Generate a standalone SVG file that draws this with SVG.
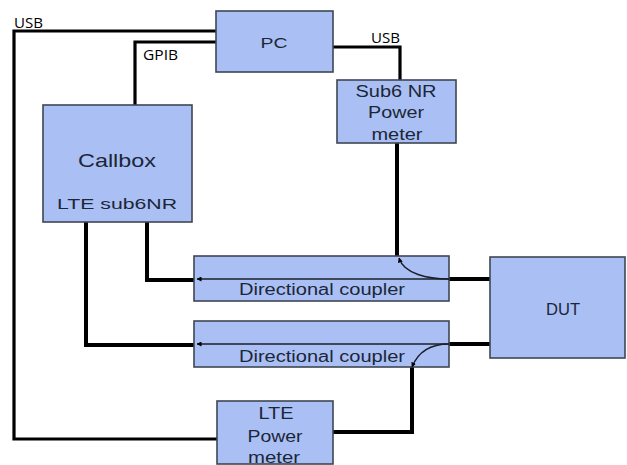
<svg xmlns="http://www.w3.org/2000/svg" width="627" height="465" viewBox="0 0 627 465">
<style>
.box{fill:#aac0f4;stroke:#3f4654;stroke-width:1.6}
.t{font-family:"Liberation Sans",Arial,sans-serif;fill:#1c2639;text-anchor:middle}
.lbl{font-family:"Open Sans","Liberation Sans",sans-serif;fill:#000;font-size:14px}
.w{fill:none;stroke:#000;stroke-width:3.2}
.th{fill:none;stroke:#000;stroke-width:4}
.in{fill:none;stroke:#1a1f2a;stroke-width:1.4}
</style>
<defs>
<marker id="ah" viewBox="0 0 10 10" refX="9" refY="5" markerWidth="5" markerHeight="5" orient="auto" markerUnits="userSpaceOnUse">
<path d="M0,0 L10,5 L0,10 z" fill="#000"/>
</marker>
</defs>
<rect width="627" height="465" fill="#fff"/>
<g id="connectors">
<polyline class="w" points="216,31 14,31 14,439 217,439"/>
<polyline class="w" points="216,42 135,42 135,105"/>
<polyline class="w" points="333,47 400,47 400,80"/>
<polyline class="th" points="397,143 397,256"/>
<polyline class="th" points="147,222 147,280 194,280"/>
<polyline class="th" points="86,222 86,345 194,345"/>
<line class="th" x1="449" y1="279" x2="490" y2="279"/>
<line class="th" x1="449" y1="344" x2="490" y2="344"/>
<polyline class="th" points="412,366 412,432 333,432"/>
<text class="lbl" x="14" y="28" textLength="29" lengthAdjust="spacingAndGlyphs">USB</text>
<text class="lbl" x="143" y="60" textLength="35" lengthAdjust="spacingAndGlyphs">GPIB</text>
<text class="lbl" x="371" y="43" textLength="29" lengthAdjust="spacingAndGlyphs">USB</text>
</g>
<g id="pc">
<rect class="box" x="216" y="11" width="117" height="61"/>
<text class="t" x="274" y="48" font-size="15" textLength="27" lengthAdjust="spacingAndGlyphs">PC</text>
</g>
<g id="callbox">
<rect class="box" x="43" y="105" width="149" height="117"/>
<text class="t" x="117" y="167" font-size="19" textLength="78" lengthAdjust="spacingAndGlyphs">Callbox</text>
<text class="t" x="117" y="209" font-size="15" textLength="120" lengthAdjust="spacingAndGlyphs">LTE  sub6NR</text>
</g>
<g id="sub6-power-meter">
<rect class="box" x="337" y="80" width="119" height="63"/>
<text class="t" x="396" y="97" font-size="16" textLength="81" lengthAdjust="spacingAndGlyphs">Sub6 NR</text>
<text class="t" x="396" y="118" font-size="16" textLength="56" lengthAdjust="spacingAndGlyphs">Power</text>
<text class="t" x="397" y="140" font-size="16" textLength="51" lengthAdjust="spacingAndGlyphs">meter</text>
</g>
<g id="coupler1">
<rect class="box" x="194" y="256" width="255" height="45"/>
<line class="in" x1="449" y1="279" x2="197" y2="279" marker-end="url(#ah)"/>
<path class="in" d="M449,279 C428,279 404,274 399,258" marker-end="url(#ah)"/>
<text class="t" x="322" y="295" font-size="16" textLength="166" lengthAdjust="spacingAndGlyphs">Directional coupler</text>
</g>
<g id="coupler2">
<rect class="box" x="194" y="321" width="255" height="46"/>
<line class="in" x1="449" y1="344" x2="197" y2="344" marker-end="url(#ah)"/>
<path class="in" d="M449,344 C430,344 418,352 412,367" marker-end="url(#ah)"/>
<text class="t" x="322" y="362" font-size="16" textLength="166" lengthAdjust="spacingAndGlyphs">Directional coupler</text>
</g>
<g id="dut">
<rect class="box" x="490" y="257" width="135" height="101"/>
<text class="t" x="563" y="315" font-size="16" textLength="34" lengthAdjust="spacingAndGlyphs">DUT</text>
</g>
<g id="lte-power-meter">
<rect class="box" x="217" y="401" width="116" height="63"/>
<text class="t" x="276" y="419" font-size="16" textLength="35" lengthAdjust="spacingAndGlyphs">LTE</text>
<text class="t" x="275" y="442" font-size="16" textLength="55" lengthAdjust="spacingAndGlyphs">Power</text>
<text class="t" x="274" y="463" font-size="16" textLength="52" lengthAdjust="spacingAndGlyphs">meter</text>
</g>
</svg>
